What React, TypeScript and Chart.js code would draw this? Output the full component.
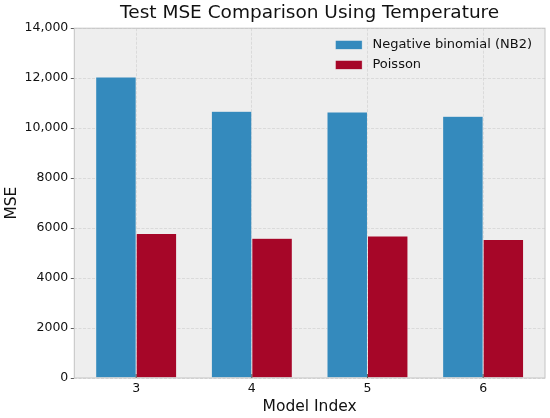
import React, { useEffect, useRef } from "react";
import { Chart, registerables } from "chart.js";

Chart.register(...registerables);

const modelIndex = [3, 4, 5, 6];
const nb2Mse = [12050, 10680, 10650, 10480];
const poissonMse = [5780, 5590, 5680, 5540];
const yTicks = [0, 2000, 4000, 6000, 8000, 10000, 12000, 14000];

const FONT = "DejaVu Sans";
const TEXT = "#111";
const GRID = "#d4d4d4";

const fmtTick = (v: number) =>
  v >= 10000 ? v.toLocaleString("en-US") : String(v);

// axes background, frame, inward x ticks and an upper-right legend (bmh look)
const bmhPlugin = {
  id: "bmh",
  beforeDraw(chart: any) {
    const { ctx, chartArea: a } = chart;
    ctx.save();
    ctx.fillStyle = "#eeeeee";
    ctx.fillRect(a.left, a.top, a.right - a.left, a.bottom - a.top);
    ctx.restore();
  },
  afterDatasetsDraw(chart: any) {
    const { ctx, chartArea: a } = chart;
    const xs = chart.scales.x;
    ctx.save();
    ctx.strokeStyle = "#c4c4c4";
    ctx.lineWidth = 1;
    ctx.strokeRect(a.left, a.top, a.right - a.left, a.bottom - a.top);
    ctx.strokeStyle = "#333";
    ctx.lineWidth = 0.8;
    xs.ticks.forEach((t: any) => {
      const px = xs.getPixelForValue(t.value);
      ctx.beginPath();
      ctx.moveTo(px, a.bottom);
      ctx.lineTo(px, a.bottom - 4);
      ctx.stroke();
    });
    ctx.restore();
  },
  afterDraw(chart: any) {
    const { ctx, chartArea: a } = chart;
    const sets = chart.data.datasets;
    ctx.save();
    ctx.font = `13px "${FONT}"`;
    const textW = Math.max(...sets.map((d: any) => ctx.measureText(d.label).width));
    const textX = a.right - 13 - textW;
    const boxX = textX - 37;
    sets.forEach((d: any, i: number) => {
      const cy = a.top + 16.7 + i * 20;
      ctx.fillStyle = d.backgroundColor;
      ctx.fillRect(boxX, cy - 4.4, 26.7, 8.8);
      ctx.strokeStyle = "#eeeeee";
      ctx.lineWidth = 0.5;
      ctx.strokeRect(boxX, cy - 4.4, 26.7, 8.8);
      ctx.fillStyle = TEXT;
      ctx.textBaseline = "middle";
      ctx.textAlign = "left";
      ctx.fillText(d.label, textX, cy);
    });
    ctx.restore();
  },
};

const MseChart: React.FC = () => {
  const chartRef = useRef<HTMLCanvasElement | null>(null);
  const chartInstance = useRef<Chart | null>(null);

  useEffect(() => {
    document.body.style.margin = "0";
    if (!chartRef.current) return;
    if (chartInstance.current) chartInstance.current.destroy();

    Chart.defaults.font.family = FONT;
    Chart.defaults.color = TEXT;

    chartInstance.current = new Chart(chartRef.current, {
      type: "bar",
      data: {
        datasets: [
          {
            label: "Negative binomial (NB2)",
            data: modelIndex.map((x, i) => ({ x, y: nb2Mse[i] })),
            backgroundColor: "#348ABD",
            borderColor: "#eeeeee",
            borderWidth: 0.5,
            categoryPercentage: 0.7,
            barPercentage: 1,
          },
          {
            label: "Poisson",
            data: modelIndex.map((x, i) => ({ x, y: poissonMse[i] })),
            backgroundColor: "#A60628",
            borderColor: "#eeeeee",
            borderWidth: 0.5,
            categoryPercentage: 0.7,
            barPercentage: 1,
          },
        ],
      },
      options: {
        responsive: false,
        animation: false,
        layout: { padding: { left: 0, right: 5, top: 0, bottom: 0 } },
        scales: {
          x: {
            type: "linear",
            min: 2.465,
            max: 6.535,
            offset: false,
            afterBuildTicks: (axis: any) => {
              axis.ticks = modelIndex.map((v) => ({ value: v }));
            },
            afterFit: (axis: any) => {
              axis.height = 40;
            },
            grid: {
              offset: false,
              color: GRID,
              lineWidth: 0.8,
              drawTicks: false,
            },
            border: { display: false, dash: [3, 1.5] },
            ticks: {
              padding: 3,
              font: { size: 12.5 },
              color: TEXT,
              callback: (v: any) => String(v),
            },
            title: {
              display: true,
              text: "Model Index",
              font: { size: 15.5 },
              color: TEXT,
              padding: { top: 0, bottom: 2 },
            },
          },
          y: {
            min: 0,
            max: 14000,
            afterBuildTicks: (axis: any) => {
              axis.ticks = yTicks.map((v) => ({ value: v }));
            },
            afterFit: (axis: any) => {
              axis.width = 74.3;
            },
            grid: {
              color: GRID,
              lineWidth: 0.8,
              tickLength: 3.5,
              tickColor: "#333",
              tickWidth: 0.8,
              tickBorderDash: [],
            },
            border: { display: false, dash: [3, 1.5] },
            ticks: {
              padding: 2.5,
              font: { size: 12.5 },
              color: TEXT,
              callback: (v: any) => fmtTick(Number(v)),
            },
            title: {
              display: true,
              text: "MSE",
              font: { size: 15.5 },
              color: TEXT,
              padding: { top: 2.5, bottom: 0 },
            },
          },
        },
        plugins: {
          legend: { display: false },
          tooltip: { enabled: false },
          title: {
            display: true,
            fullSize: false,
            text: "Test MSE Comparison Using Temperature",
            font: { size: 18.5, weight: "normal" },
            color: TEXT,
            padding: { top: 2, bottom: 4 },
          },
        },
      },
      plugins: [bmhPlugin],
    } as any);

    return () => {
      if (chartInstance.current) {
        chartInstance.current.destroy();
        chartInstance.current = null;
      }
    };
  }, []);

  return (
    <canvas
      ref={chartRef}
      width={550}
      height={418}
      style={{ width: 550, height: 418, display: "block" }}
    />
  );
};

export default function App() {
  return <MseChart />;
}
